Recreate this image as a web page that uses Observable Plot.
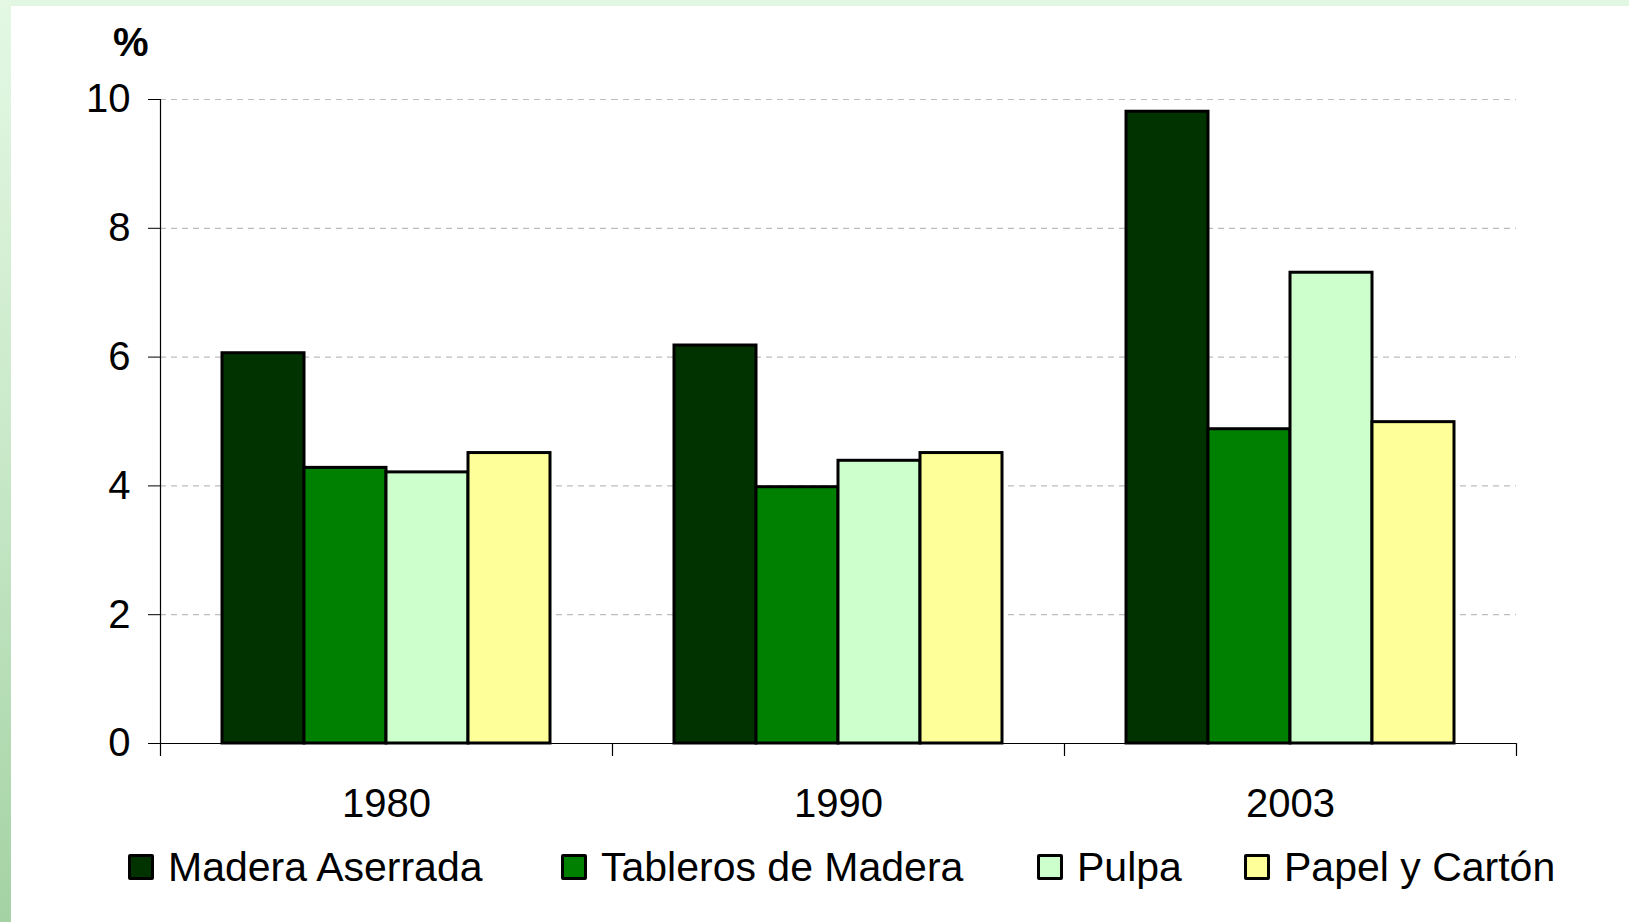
<!DOCTYPE html>
<html>
<head>
<meta charset="utf-8">
<script src="https://cdn.jsdelivr.net/npm/d3@7"></script>
<script src="https://cdn.jsdelivr.net/npm/@observablehq/plot@0.6"></script>
<style>
  html, body { margin: 0; padding: 0; background: #ffffff; overflow: hidden; }
  #page { position: relative; width: 1629px; height: 922px; background: #ffffff;
          font-family: "Liberation Sans", Arial, sans-serif; color: #000; }
  #leftband { position: absolute; left: 0; top: 0; width: 11px; height: 922px;
              background: linear-gradient(to bottom, #e4f8e4 0%, #c8e8c8 50%, #a4d2a4 100%); }
  #topband { position: absolute; left: 0; top: 0; width: 1629px; height: 6px; background: #e2f7e2; }
  #chart { position: absolute; left: 0; top: 0; }
  #pct { position: absolute; left: 113px; top: 22px; font-size: 40px; font-weight: bold; line-height: 1; }
  #legend { position: absolute; left: 0; top: 846px; width: 1629px; height: 42px;
            font-size: 41px; line-height: 42px; }
  .item { position: absolute; top: 0; display: flex; align-items: center; height: 42px; white-space: nowrap; }
  .sw { width: 20px; height: 20px; border: 3px solid #000; border-radius: 2px; margin-right: 14px; box-sizing: content-box; }
</style>
</head>
<body>
<div id="page">
  <div id="topband"></div>
  <div id="leftband"></div>
  <div id="chart"></div>
  <div id="pct">%</div>
  <div id="legend"></div>
</div>
<script>
// ---- data ----
const years = ["1980", "1990", "2003"];
const series = ["Madera Aserrada", "Tableros de Madera", "Pulpa", "Papel y Cartón"];
const maderaAserrada = [6.06, 6.18, 9.81];
const tablerosDeMadera = [4.28, 3.98, 4.88];
const pulpa = [4.21, 4.39, 7.31];
const papelYCarton = [4.51, 4.51, 4.99];
const yTicks = [0, 2, 4, 6, 8, 10];
const gridTicks = [2, 4, 6, 8, 10];

// ---- styles / layout ----
const colors = ["#003300", "#008000", "#ccffcc", "#ffff99"];
const legendLeft = [128, 561, 1037, 1244];

const valuesBySeries = [maderaAserrada, tablerosDeMadera, pulpa, papelYCarton];
const rows = years.flatMap((year, i) =>
  series.map((s, j) => ({year, series: s, value: valuesBySeries[j][i]}))
);

const downTick = {draw(context, l) { context.moveTo(0, 0); context.lineTo(0, -l); }};

const chart = Plot.plot({
  width: 1629,
  height: 840,
  marginLeft: 160,
  marginRight: 113,
  marginTop: 99,
  marginBottom: 97,
  style: {background: "transparent", fontFamily: "'Liberation Sans', Arial, sans-serif", fontSize: "40px", color: "#000", overflow: "visible"},
  fx: {domain: years, padding: 0, label: null},
  x: {domain: series, paddingInner: 0, paddingOuter: 0.73, axis: null},
  y: {domain: [0, 10], label: null},
  color: {domain: series, range: colors},
  marks: [
    Plot.gridY(gridTicks, {stroke: "#bdbdbd", strokeOpacity: 1, strokeWidth: 1.2, strokeDasharray: "6,5"}),
    Plot.barY(rows, {fx: "year", x: "series", y: "value", fill: "series", stroke: "#000", strokeWidth: 3, inset: 0}),
    Plot.ruleY([0], {stroke: "#000", strokeWidth: 1.2}),
    Plot.frame({anchor: "left", facetAnchor: "left", stroke: "#000", strokeWidth: 1.2}),
    Plot.axisY({ticks: yTicks, tickSize: 12, tickPadding: 18, fontSize: 40, label: null, stroke: "#000"}),
    Plot.axisFx({anchor: "bottom", tickSize: 0, tickPadding: 45, fontSize: 40, label: null}),
    Plot.vector([0], {frameAnchor: "bottom-left", length: 12, rotate: 180, anchor: "start", shape: downTick, stroke: "#000", strokeWidth: 1.2}),
    Plot.vector([{year: years[years.length - 1]}], {fx: "year", frameAnchor: "bottom-right", length: 12, rotate: 180, anchor: "start", shape: downTick, stroke: "#000", strokeWidth: 1.2})
  ]
});
document.getElementById("chart").appendChild(chart);

const legend = document.getElementById("legend");
series.forEach((s, i) => {
  const item = document.createElement("div");
  item.className = "item";
  item.style.left = legendLeft[i] + "px";
  const sw = document.createElement("div");
  sw.className = "sw";
  sw.style.background = colors[i];
  const label = document.createElement("span");
  label.textContent = s;
  item.appendChild(sw);
  item.appendChild(label);
  legend.appendChild(item);
});
</script>
</body>
</html>
